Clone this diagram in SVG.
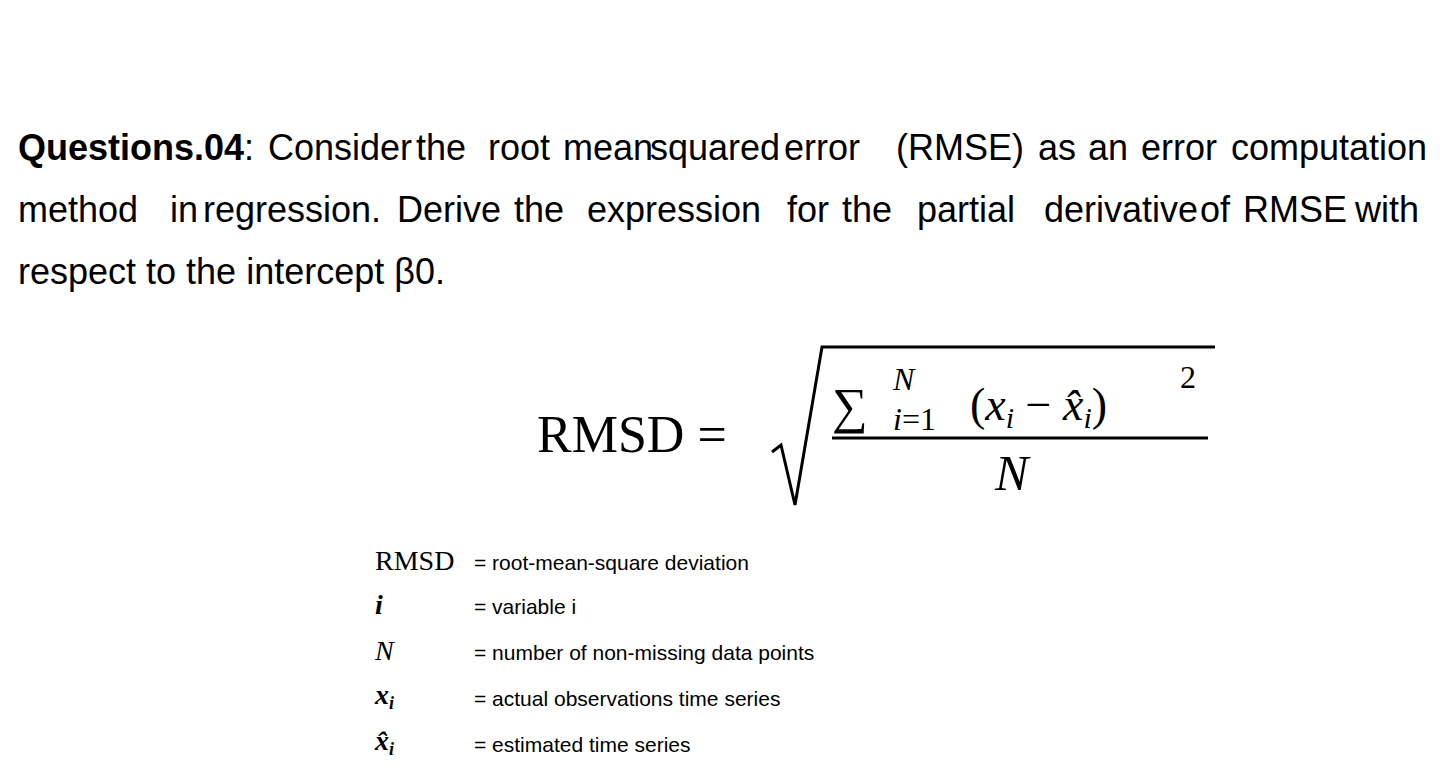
<svg xmlns="http://www.w3.org/2000/svg" width="1440" height="770" viewBox="0 0 1440 770">
<style>
.t{font-family:"Liberation Sans",Arial,sans-serif;font-size:36px;fill:#000}
.m{font-family:"Liberation Serif","Times New Roman",serif;fill:#000}
.i{font-style:italic}
.l{font-family:"Liberation Sans",Arial,sans-serif;font-size:21px;fill:#000}
</style>
<rect width="1440" height="770" fill="#fff"/>
<g id="question">
<text class="t" y="160"><tspan x="18" font-weight="bold">Questions.04</tspan><tspan>: </tspan><tspan x="268">Consider</tspan><tspan x="416">the</tspan><tspan x="488">root</tspan><tspan x="563">mean</tspan><tspan x="650">squared</tspan><tspan x="784">error</tspan><tspan x="896">(RMSE)</tspan><tspan x="1038">as</tspan><tspan x="1088">an</tspan><tspan x="1141">error</tspan><tspan x="1231">computation</tspan></text>
<text class="t" y="222"><tspan x="18">method</tspan><tspan x="170">in</tspan><tspan x="203">regression.</tspan><tspan x="397">Derive</tspan><tspan x="514">the</tspan><tspan x="587">expression</tspan><tspan x="787">for</tspan><tspan x="842">the</tspan><tspan x="917">partial</tspan><tspan x="1044">derivative</tspan><tspan x="1200">of</tspan><tspan x="1243">RMSE</tspan><tspan x="1355">with</tspan></text>
<text class="t" x="18" y="284">respect to the intercept β0.</text>
</g>
<g id="formula">
<text class="m" x="537" y="452" font-size="52">RMSD =</text>
<path d="M772,452 L781,445 L795,505 L822,347 L1215,347" fill="none" stroke="#000" stroke-width="3"/>
<line x1="832" y1="438" x2="1208" y2="438" stroke="#000" stroke-width="3"/>
<text class="m" x="832" y="423" font-size="50">∑</text>
<text class="m i" x="893" y="390" font-size="32">N</text>
<text class="m" x="893" y="430" font-size="32"><tspan font-style="italic">i</tspan>=1</text>
<text class="m" x="970" y="420" font-size="46">(<tspan font-style="italic">x</tspan><tspan font-size="30" font-style="italic" dy="8">i</tspan><tspan dy="-8"> − </tspan><tspan font-style="italic">x̂</tspan><tspan font-size="30" font-style="italic" dy="8">i</tspan><tspan dy="-8">)</tspan></text>
<text class="m" x="1180" y="388" font-size="32">2</text>
<text class="m i" x="995" y="490" font-size="50">N</text>
</g>
<g id="legend">
<text class="m" x="375" y="570" font-size="28">RMSD</text>
<text class="l" x="474" y="570">= root-mean-square deviation</text>
<text class="m i" x="375" y="614" font-size="28" font-weight="bold">i</text>
<text class="l" x="474" y="614">= variable i</text>
<text class="m i" x="375" y="660" font-size="28">N</text>
<text class="l" x="474" y="660">= number of non-missing data points</text>
<text class="m i" x="375" y="704" font-size="28" font-weight="bold">x<tspan font-size="18" dy="5">i</tspan></text>
<text class="l" x="474" y="706">= actual observations time series</text>
<text class="m i" x="375" y="750" font-size="28" font-weight="bold">x̂<tspan font-size="18" dy="5">i</tspan></text>
<text class="l" x="474" y="752">= estimated time series</text>
</g>
</svg>
